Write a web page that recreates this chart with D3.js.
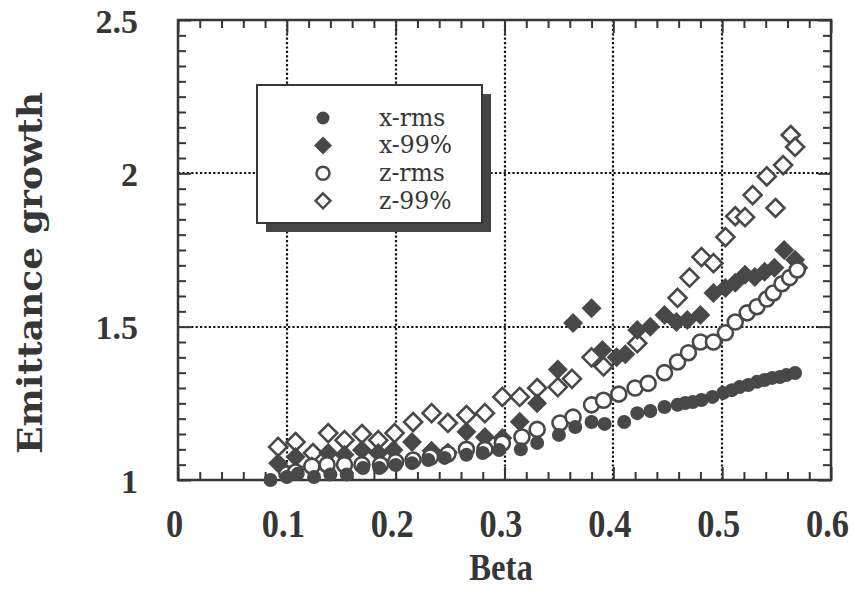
<!DOCTYPE html>
<html>
<head>
<meta charset="utf-8">
<script src="https://cdn.jsdelivr.net/npm/d3@7/dist/d3.min.js"></script>
<style>
  html, body { margin: 0; padding: 0; background: #ffffff; }
  svg { display: block; }
</style>
</head>
<body>
<svg id="chart" width="853" height="590"></svg>
<script>
// Emittance growth versus beta for the four beam measures
const xRmsBeta = [0.085, 0.100, 0.110, 0.125, 0.140, 0.155, 0.170, 0.185, 0.200, 0.215, 0.230, 0.245, 0.265, 0.280, 0.295, 0.315, 0.330, 0.350, 0.365, 0.380, 0.392, 0.410, 0.422, 0.434, 0.447, 0.459, 0.466, 0.473, 0.481, 0.491, 0.501, 0.509, 0.516, 0.524, 0.532, 0.539, 0.546, 0.553, 0.559, 0.567];
const xRmsVal  = [1.000, 1.010, 1.020, 1.010, 1.018, 1.018, 1.039, 1.039, 1.049, 1.055, 1.065, 1.072, 1.082, 1.088, 1.098, 1.100, 1.121, 1.147, 1.173, 1.189, 1.183, 1.189, 1.218, 1.225, 1.238, 1.245, 1.251, 1.254, 1.261, 1.271, 1.284, 1.293, 1.303, 1.310, 1.320, 1.326, 1.333, 1.336, 1.342, 1.349];

const x99Beta = [0.092, 0.108, 0.123, 0.138, 0.153, 0.169, 0.184, 0.198, 0.215, 0.233, 0.248, 0.265, 0.282, 0.298, 0.314, 0.330, 0.349, 0.363, 0.380, 0.390, 0.403, 0.411, 0.422, 0.434, 0.447, 0.458, 0.468, 0.480, 0.492, 0.503, 0.512, 0.521, 0.530, 0.539, 0.548, 0.557, 0.567, 0.570];
const x99Val  = [1.055, 1.075, 1.045, 1.088, 1.082, 1.098, 1.088, 1.098, 1.124, 1.095, 1.090, 1.157, 1.140, 1.137, 1.190, 1.250, 1.360, 1.512, 1.560, 1.424, 1.400, 1.410, 1.489, 1.500, 1.538, 1.515, 1.522, 1.538, 1.610, 1.626, 1.643, 1.669, 1.662, 1.679, 1.692, 1.750, 1.718, 1.692];

const zRmsBeta = [0.100, 0.108, 0.123, 0.137, 0.153, 0.169, 0.186, 0.200, 0.216, 0.232, 0.248, 0.265, 0.282, 0.298, 0.316, 0.330, 0.351, 0.363, 0.380, 0.391, 0.405, 0.420, 0.432, 0.447, 0.459, 0.469, 0.480, 0.492, 0.503, 0.512, 0.523, 0.532, 0.541, 0.547, 0.555, 0.562, 0.569];
const zRmsVal  = [1.020, 1.026, 1.045, 1.050, 1.050, 1.050, 1.050, 1.060, 1.065, 1.075, 1.085, 1.100, 1.100, 1.120, 1.140, 1.165, 1.186, 1.205, 1.245, 1.260, 1.280, 1.300, 1.315, 1.350, 1.385, 1.415, 1.450, 1.450, 1.480, 1.515, 1.545, 1.565, 1.590, 1.610, 1.640, 1.660, 1.685];

const z99Beta = [0.092, 0.108, 0.124, 0.138, 0.153, 0.169, 0.184, 0.199, 0.216, 0.233, 0.248, 0.265, 0.282, 0.298, 0.314, 0.330, 0.349, 0.362, 0.380, 0.391, 0.422, 0.459, 0.470, 0.481, 0.492, 0.503, 0.512, 0.521, 0.528, 0.541, 0.549, 0.556, 0.563, 0.567];
const z99Val  = [1.108, 1.124, 1.088, 1.153, 1.130, 1.150, 1.130, 1.153, 1.189, 1.218, 1.186, 1.212, 1.218, 1.271, 1.271, 1.300, 1.303, 1.330, 1.400, 1.370, 1.446, 1.594, 1.660, 1.727, 1.707, 1.792, 1.860, 1.857, 1.929, 1.990, 1.887, 2.027, 2.125, 2.086];

const seriesNames = ["x-rms", "x-99%", "z-rms", "z-99%"];
const xTickValues = [0, 0.1, 0.2, 0.3, 0.4, 0.5, 0.6];
const xTickLabels = ["0", "0.1", "0.2", "0.3", "0.4", "0.5", "0.6"];
const yTickValues = [1, 1.5, 2, 2.5];
const yTickLabels = ["1", "1.5", "2", "2.5"];
const xTitle = "Beta";
const yTitle = "Emittance growth";

const ink = "#363636";
const markInk = "#484848";

const svg = d3.select("#chart");

const x = d3.scaleLinear().domain([0, 0.6]).range([178, 831]);
const y = d3.scaleLinear().domain([1, 2.5]).range([480, 20]);
const [x0, x1] = x.range();
const [y0, y1] = y.range();

// dotted grid at major ticks
const grid = svg.append("g").attr("stroke", "#111").attr("stroke-width", 2.2).attr("stroke-dasharray", "2.2,2.2");
grid.selectAll("line.gx").data(xTickValues.slice(1, -1)).join("line")
  .attr("x1", d => Math.round(x(d))).attr("x2", d => Math.round(x(d))).attr("y1", y1).attr("y2", y0);
grid.selectAll("line.gy").data(yTickValues.slice(1, -1)).join("line")
  .attr("y1", d => Math.round(y(d))).attr("y2", d => Math.round(y(d))).attr("x1", x0).attr("x2", x1);

// inward ticks on all four sides
const xMinor = d3.range(0, 0.6001, 0.02).filter(v => Math.abs(v * 10 - Math.round(v * 10)) > 1e-6);
const yMinor = d3.range(1, 2.5001, 0.05).filter(v => Math.abs(v * 2 - Math.round(v * 2)) > 1e-6);

function styleAxis(g) {
  g.select(".domain").remove();
  g.selectAll(".tick line").attr("stroke", ink).attr("stroke-width", 2);
  g.selectAll(".tick text").remove();
}
const axes = [
  [d3.axisBottom(x), `translate(0,${y0})`, xMinor, xTickValues],
  [d3.axisTop(x), `translate(0,${y1})`, xMinor, xTickValues],
  [d3.axisLeft(y), `translate(${x0},0)`, yMinor, yTickValues],
  [d3.axisRight(y), `translate(${x1},0)`, yMinor, yTickValues]
];
axes.forEach(([ax, tr, minor, major]) => {
  svg.append("g").attr("transform", tr).call(ax.tickValues(minor).tickSize(-8)).call(styleAxis);
  svg.append("g").attr("transform", tr).call(ax.tickValues(major).tickSize(-13)).call(styleAxis);
});

// frame
svg.append("rect").attr("x", x0).attr("y", y1).attr("width", x1 - x0).attr("height", y0 - y1)
  .attr("fill", "none").attr("stroke", ink).attr("stroke-width", 2.5);

// tick labels
const xLab = svg.append("g").attr("transform", `translate(0,${y0})`)
  .call(d3.axisBottom(x).tickValues(xTickValues).tickSize(0).tickFormat((d, i) => xTickLabels[i]));
xLab.select(".domain").remove();
xLab.selectAll(".tick text")
  .attr("y", 0).attr("dy", 0)
  .attr("transform", "translate(-4,57) scale(0.86,1)")
  .attr("font-family", "'Liberation Serif', 'Times New Roman', serif")
  .attr("font-weight", "bold").attr("font-size", 40).attr("fill", ink);

const yLab = svg.append("g").attr("transform", `translate(${x0},0)`)
  .call(d3.axisLeft(y).tickValues(yTickValues).tickSize(0).tickFormat((d, i) => yTickLabels[i]));
yLab.select(".domain").remove();
yLab.selectAll(".tick text")
  .attr("x", -40).attr("dy", "0.36em")
  .attr("font-family", "'Liberation Serif', 'Times New Roman', serif")
  .attr("font-weight", "bold").attr("font-size", 34).attr("fill", ink);

// axis titles
svg.append("text").attr("x", 501).attr("y", 580).attr("text-anchor", "middle")
  .attr("transform", "translate(501,0) scale(0.86,1) translate(-501,0)")
  .attr("font-family", "'Liberation Serif', 'Times New Roman', serif")
  .attr("font-weight", "bold").attr("font-size", 38).attr("fill", ink).text(xTitle);

svg.append("text").attr("transform", "translate(42,273) rotate(-90)")
  .attr("text-anchor", "middle")
  .attr("font-family", "'DejaVu Serif', serif").attr("font-weight", "bold")
  .attr("font-size", 34).attr("textLength", 362).attr("lengthAdjust", "spacingAndGlyphs")
  .attr("fill", ink).text(yTitle);

// markers
const diamond = s => `M0,${-s}L${s},0L0,${s}L${-s},0Z`;
function pts(betas, vals) { return betas.map((b, i) => ({ b, v: vals[i] })); }

const plot = svg.append("g");
plot.selectAll("path.z99").data(pts(z99Beta, z99Val)).join("path")
  .attr("transform", d => `translate(${x(d.b)},${y(d.v)})`).attr("d", diamond(9))
  .attr("fill", "#fff").attr("stroke", markInk).attr("stroke-width", 2.6);
plot.selectAll("path.x99").data(pts(x99Beta, x99Val)).join("path")
  .attr("transform", d => `translate(${x(d.b)},${y(d.v)})`).attr("d", diamond(10))
  .attr("fill", markInk);
plot.selectAll("circle.zr").data(pts(zRmsBeta, zRmsVal)).join("circle")
  .attr("cx", d => x(d.b)).attr("cy", d => y(d.v)).attr("r", 7.5)
  .attr("fill", "#fff").attr("stroke", markInk).attr("stroke-width", 2.6);
plot.selectAll("circle.xr").data(pts(xRmsBeta, xRmsVal)).join("circle")
  .attr("cx", d => x(d.b)).attr("cy", d => y(d.v)).attr("r", 7)
  .attr("fill", markInk);

// legend with drop shadow
const lg = svg.append("g").attr("transform", "translate(257,85)");
lg.append("rect").attr("x", 9).attr("y", 9).attr("width", 225).attr("height", 138).attr("fill", "#454545");
lg.append("rect").attr("x", 0).attr("y", 0).attr("width", 225).attr("height", 138)
  .attr("fill", "#fff").attr("stroke", ink).attr("stroke-width", 2);
const rows = lg.selectAll("g.row").data(seriesNames).join("g")
  .attr("transform", (d, i) => `translate(66,${33 + i * 27.6})`);
rows.each(function(d, i) {
  const g = d3.select(this);
  if (i === 0) g.append("circle").attr("r", 6.5).attr("fill", markInk);
  if (i === 1) g.append("path").attr("d", diamond(9)).attr("fill", markInk);
  if (i === 2) g.append("circle").attr("r", 6.5).attr("fill", "#fff").attr("stroke", markInk).attr("stroke-width", 2.4);
  if (i === 3) g.append("path").attr("d", diamond(7.5)).attr("fill", "#fff").attr("stroke", markInk).attr("stroke-width", 2.4);
  g.append("text").attr("x", 56).attr("dy", "0.33em")
    .attr("font-family", "'DejaVu Serif', serif")
    .attr("font-size", 23.5).attr("fill", ink).text(d);
});
</script>
</body>
</html>
